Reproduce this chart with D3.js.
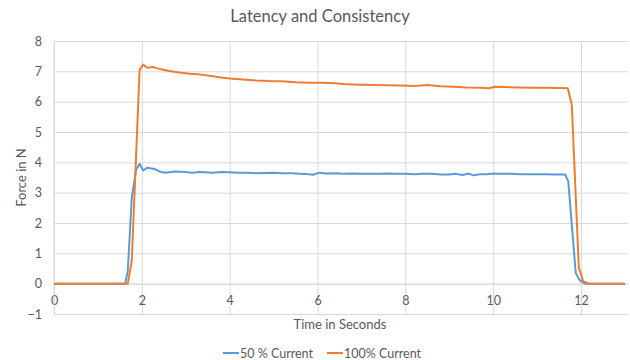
<!DOCTYPE html>
<html>
<head>
<meta charset="utf-8">
<script src="https://cdn.jsdelivr.net/npm/d3@7"></script>
<style>
  html, body { margin: 0; padding: 0; background: #fff; }
  svg { display: block; font-family: Lato, "Open Sans", sans-serif; }
</style>
</head>
<body>
<svg id="chart" width="630" height="360"></svg>
<script>
// Force readings (N) over time (s) for the two drive currents
const timeHalf = [0, 1.62, 1.68, 1.77, 1.87, 1.95, 2.03, 2.12, 2.22, 2.30, 2.40, 2.52, 2.62, 2.75, 2.88,
  3.0, 3.15, 3.3, 3.45, 3.6, 3.8, 4.0, 4.2, 4.4, 4.6, 4.8, 5.0, 5.2, 5.4, 5.6, 5.8, 5.9, 6.05, 6.2,
  6.4, 6.6, 6.8, 7.0, 7.2, 7.4, 7.6, 7.8, 8.0, 8.2, 8.4, 8.6, 8.8, 9.0, 9.15, 9.3, 9.45, 9.55, 9.7,
  9.85, 10.0, 10.2, 10.4, 10.6, 10.8, 11.0, 11.2, 11.4, 11.64, 11.71, 11.88, 11.98, 12.09, 13];
const forceHalf = [0, 0, 0.41, 2.83, 3.76, 3.95, 3.73, 3.82, 3.80, 3.78, 3.70, 3.66, 3.67, 3.70, 3.69,
  3.68, 3.66, 3.68, 3.67, 3.66, 3.68, 3.67, 3.66, 3.66, 3.64, 3.65, 3.66, 3.64, 3.64, 3.62, 3.61, 3.59, 3.66, 3.63,
  3.64, 3.62, 3.63, 3.62, 3.62, 3.62, 3.63, 3.62, 3.62, 3.61, 3.62, 3.62, 3.60, 3.60, 3.62, 3.58, 3.63, 3.57, 3.61,
  3.61, 3.63, 3.62, 3.62, 3.61, 3.61, 3.61, 3.61, 3.60, 3.60, 3.37, 0.35, 0.10, 0, 0];

const timeFull = [0, 1.68, 1.77, 1.95, 2.03, 2.12, 2.25, 2.4, 2.6, 2.85, 3.1, 3.3, 3.5, 3.8, 4.0, 4.3,
  4.6, 4.9, 5.2, 5.5, 5.8, 6.1, 6.4, 6.6, 6.8, 7.0, 7.3, 7.6, 7.9, 8.2, 8.5, 8.8, 9.1, 9.4, 9.7, 9.9,
  10.05, 10.3, 10.6, 10.9, 11.2, 11.5, 11.70, 11.79, 11.95, 12.05, 12.17, 13];
const forceFull = [0, 0, 0.74, 7.06, 7.22, 7.12, 7.14, 7.08, 7.02, 6.96, 6.92, 6.90, 6.86, 6.80, 6.76, 6.73,
  6.70, 6.68, 6.67, 6.64, 6.62, 6.62, 6.61, 6.58, 6.57, 6.56, 6.55, 6.54, 6.53, 6.52, 6.55, 6.51, 6.49, 6.47, 6.46, 6.44,
  6.49, 6.48, 6.47, 6.46, 6.46, 6.45, 6.44, 5.90, 0.53, 0.08, 0, 0];

const seriesNames = ["50 % Current", "100% Current"];
const seriesColors = ["#5B9BD5", "#ED7D31"];
const xTicks = [0, 2, 4, 6, 8, 10, 12];
const yTicks = [-1, 0, 1, 2, 3, 4, 5, 6, 7, 8];

const svg = d3.select("#chart");
const textColor = "#595959";
const gridColor = "#d9d9d9";

const x = d3.scaleLinear().domain([0, 13.07]).range([54, 628]);
const y = d3.scaleLinear().domain([-1, 8]).range([314, 41]);

// title
svg.append("text")
  .attr("x", 320).attr("y", 22)
  .attr("text-anchor", "middle")
  .attr("font-size", 16.5).attr("fill", textColor)
  .text("Latency and Consistency");

// horizontal gridlines + y labels
const yAxis = d3.axisLeft(y).tickValues(yTicks).tickSize(-(x.range()[1] - x.range()[0])).tickPadding(12)
  .tickFormat(d3.format("d"));
const gy = svg.append("g").attr("transform", `translate(${x(0)},0)`).call(yAxis);
gy.select(".domain").remove();
gy.selectAll(".tick line").attr("stroke", gridColor).attr("stroke-width", 1);
gy.selectAll(".tick text").attr("fill", textColor).attr("font-size", 12.5).attr("font-family", "Lato, sans-serif");

// vertical gridlines
const xGrid = d3.axisBottom(x).tickValues(xTicks).tickSize(-(y.range()[0] - y.range()[1])).tickFormat("");
const gxg = svg.append("g").attr("transform", `translate(0,${y(-1)})`).call(xGrid);
gxg.select(".domain").remove();
gxg.selectAll(".tick line").attr("stroke", gridColor).attr("stroke-width", 1);

// x labels placed under the zero line
const xAxis = d3.axisBottom(x).tickValues(xTicks).tickSize(0).tickPadding(12).tickFormat(d3.format("d"));
const gx = svg.append("g").attr("transform", `translate(0,${y(0)})`).call(xAxis);
gx.select(".domain").attr("stroke", gridColor);
gx.selectAll(".tick text").attr("fill", textColor).attr("font-size", 12.5).attr("font-family", "Lato, sans-serif");

// left axis line
svg.append("line")
  .attr("x1", x(0)).attr("x2", x(0)).attr("y1", y(8)).attr("y2", y(-1))
  .attr("stroke", gridColor);

// axis titles
svg.append("text")
  .attr("x", 340).attr("y", 329)
  .attr("text-anchor", "middle").attr("font-size", 13).attr("fill", textColor)
  .text("Time in Seconds");
svg.append("text")
  .attr("transform", `translate(26,${(y(8) + y(-1)) / 2}) rotate(-90)`)
  .attr("text-anchor", "middle").attr("font-size", 13).attr("fill", textColor)
  .text("Force in N");

// series lines
const line = d3.line().x(d => x(d[0])).y(d => y(d[1]));
const series = [
  d3.zip(timeHalf, forceHalf),
  d3.zip(timeFull, forceFull)
];
series.forEach((pts, i) => {
  svg.append("path")
    .datum(pts)
    .attr("fill", "none")
    .attr("stroke", seriesColors[i])
    .attr("stroke-width", 2)
    .attr("stroke-linejoin", "round")
    .attr("d", line);
});

// legend
const legendX = [223, 327];
seriesNames.forEach((name, i) => {
  const g = svg.append("g").attr("transform", `translate(${legendX[i]},353)`);
  g.append("line").attr("x1", 0).attr("x2", 16).attr("y1", 0).attr("y2", 0)
    .attr("stroke", seriesColors[i]).attr("stroke-width", 2);
  g.append("text").attr("x", 17).attr("y", 4.5)
    .attr("font-size", 12.5).attr("fill", textColor).text(name);
});
</script>
</body>
</html>
